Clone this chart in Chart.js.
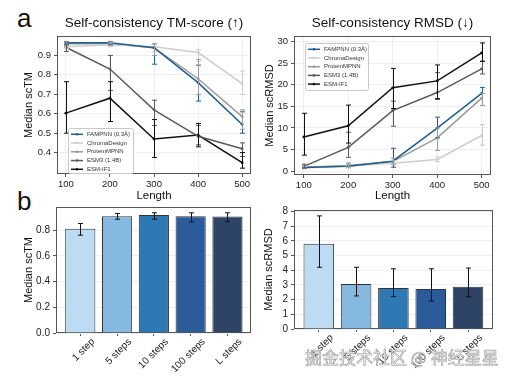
<!DOCTYPE html>
<html>
<head>
<meta charset="utf-8">
<script src="https://cdn.jsdelivr.net/npm/chart.js@4.4.1/dist/chart.umd.min.js"></script>
<style>
  body { margin: 0; background: #fff; }
  #page { position: relative; width: 518px; height: 381px; overflow: hidden; font-family: "Liberation Sans", Arial, sans-serif; }
  canvas { position: absolute; }
  .panel { position: absolute; font-size: 26px; line-height: 1; color: #111; }
  #mark { position: absolute; left: 305px; top: 348px; font: 17px/1 "Noto Sans CJK SC"; color: #f5f5f5;
          -webkit-text-stroke: 0.6px #999; white-space: nowrap; }
</style>
</head>
<body>
<div id="page">
  <div class="panel" style="left:17px;top:5px">a</div>
  <div class="panel" style="left:17px;top:188px">b</div>
  <canvas id="tm-line" width="258" height="206" style="left:0;top:0"></canvas>
  <canvas id="rmsd-line" width="260" height="206" style="left:258px;top:0"></canvas>
  <canvas id="tm-bar" width="258" height="186" style="left:0;top:195px"></canvas>
  <canvas id="rmsd-bar" width="260" height="186" style="left:258px;top:195px"></canvas>
  <div id="mark">掘金技术社区 @ 神经星星</div>
</div>
<script>
// ---- data ----
const lengths = [100, 200, 300, 400, 500];
const modelNames = ['FAMPNN (0.3Å)', 'ChromaDesign', 'ProteinMPNN', 'ESM3 (1.4B)', 'ESM-IF1'];
const modelColors = ['#1d5f8c', '#cdcdcd', '#9a9a9a', '#5a5a5a', '#111111'];

// median scTM per length
const tmFampnn      = [0.965, 0.965, 0.94, 0.76, 0.545];
const tmChroma      = [0.945, 0.955, 0.945, 0.915, 0.755];
const tmProteinMpnn = [0.96, 0.96, 0.94, 0.78, 0.585];
const tmEsm3        = [0.942, 0.83, 0.62, 0.484, 0.42];
const tmEsmIf1      = [0.603, 0.68, 0.47, 0.49, 0.348];
// error bar ends
const tmFampnnLow       = [0.955, 0.955, 0.855, 0.665, 0.50];
const tmFampnnHigh      = [0.972, 0.972, 0.96, 0.85, 0.61];
const tmChromaLow       = [0.935, 0.945, 0.92, 0.87, 0.70];
const tmChromaHigh      = [0.955, 0.965, 0.96, 0.93, 0.82];
const tmProteinMpnnLow  = [0.95, 0.95, 0.90, 0.70, 0.52];
const tmProteinMpnnHigh = [0.97, 0.97, 0.96, 0.88, 0.62];
const tmEsm3Low         = [0.92, 0.72, 0.54, 0.44, 0.38];
const tmEsm3High        = [0.955, 0.90, 0.67, 0.54, 0.45];
const tmEsmIf1Low       = [0.50, 0.56, 0.375, 0.43, 0.32];
const tmEsmIf1High      = [0.765, 0.765, 0.57, 0.55, 0.40];

// median scRMSD per length
const rmsdFampnn      = [0.85, 1.1, 2.3, 9.95, 18.0];
const rmsdChroma      = [0.7, 1.2, 1.85, 2.7, 8.25];
const rmsdProteinMpnn = [0.9, 1.3, 2.2, 7.7, 16.9];
const rmsdEsm3        = [1.1, 5.5, 14.0, 18.2, 23.7];
const rmsdEsmIf1      = [7.9, 10.5, 19.3, 20.9, 27.4];
const rmsdFampnnLow       = [0.6, 0.8, 0.9, 7.7, 15.2];
const rmsdFampnnHigh      = [1.2, 1.6, 5.3, 12.5, 19.4];
const rmsdChromaLow       = [0.5, 0.9, 1.5, 2.2, 6.0];
const rmsdChromaHigh      = [1.0, 1.6, 2.4, 3.3, 10.8];
const rmsdProteinMpnnLow  = [0.6, 1.0, 1.6, 4.8, 15.2];
const rmsdProteinMpnnHigh = [1.3, 1.9, 3.0, 10.0, 18.0];
const rmsdEsm3Low         = [0.7, 3.2, 10.4, 16.6, 22.5];
const rmsdEsm3High        = [1.6, 9.0, 16.2, 22.8, 25.5];
const rmsdEsmIf1Low       = [3.7, 6.5, 14.5, 16.8, 25.4];
const rmsdEsmIf1High      = [13.4, 15.3, 23.8, 24.6, 29.7];

// panel b: decoding steps
const stepLabels = ['1 step', '5 steps', '10 steps', '100 steps', 'L steps'];
const stepColors = ['#bddcf3', '#86b9df', '#2e79b3', '#2b5b98', '#2d4466'];
const stepTm       = [0.81, 0.909, 0.917, 0.909, 0.906];
const stepTmLow    = [0.761, 0.885, 0.885, 0.865, 0.865];
const stepTmHigh   = [0.852, 0.93, 0.935, 0.935, 0.935];
const stepRmsd     = [5.8, 3.06, 2.79, 2.72, 2.88];
const stepRmsdLow  = [4.2, 2.25, 2.2, 1.9, 2.2];
const stepRmsdHigh = [7.7, 4.2, 4.1, 4.1, 4.15];

const FONT = '"Liberation Sans", Arial, sans-serif';
Chart.defaults.font.family = FONT;
Chart.defaults.color = '#222';

// frame round the plot + title centred over the plot
const frameTitle = {
  id: 'frameTitle',
  beforeDatasetsDraw(chart) {
    const a = chart.chartArea, ctx = chart.ctx;
    ctx.save();
    ctx.strokeStyle = '#555';
    ctx.lineWidth = 1;
    ctx.strokeRect(a.left + 0.5, a.top + 0.5, a.right - a.left - 1, a.bottom - a.top - 1);
    ctx.restore();
  },
  afterDraw(chart, args, opts) {
    if (!opts.text) return;
    const a = chart.chartArea, ctx = chart.ctx;
    ctx.save();
    ctx.font = opts.size + 'px ' + FONT;
    ctx.fillStyle = '#111';
    ctx.textAlign = 'center';
    ctx.textBaseline = 'middle';
    ctx.fillText(opts.text, (a.left + a.right) / 2 + (opts.dx || 0), opts.y);
    ctx.restore();
  }
};

const errorBars = {
  id: 'errorBars',
  afterDatasetsDraw(chart) {
    const ctx = chart.ctx, yScale = chart.scales.y;
    chart.data.datasets.forEach((ds, i) => {
      if (!ds.errLow) return;
      const meta = chart.getDatasetMeta(i);
      ctx.save();
      ctx.strokeStyle = ds.errColor || ds.borderColor;
      ctx.lineWidth = 1;
      meta.data.forEach((el, j) => {
        const x = Math.round(el.x) + 0.5;
        const y0 = yScale.getPixelForValue(ds.errLow[j]);
        const y1 = yScale.getPixelForValue(ds.errHigh[j]);
        ctx.beginPath();
        ctx.moveTo(x, y0); ctx.lineTo(x, y1);
        ctx.moveTo(x - 2.5, y0); ctx.lineTo(x + 2.5, y0);
        ctx.moveTo(x - 2.5, y1); ctx.lineTo(x + 2.5, y1);
        ctx.stroke();
      });
      ctx.restore();
    });
  }
};

// small boxed legend inside the plot
const boxLegend = {
  id: 'boxLegend',
  afterDraw(chart, args, o) {
    if (!o.width) return;
    const a = chart.chartArea, ctx = chart.ctx;
    const bx = a.left + o.left, by = a.top + o.top;
    ctx.save();
    ctx.fillStyle = '#fff';
    ctx.strokeStyle = '#c8c8c8';
    ctx.lineWidth = 1;
    ctx.beginPath();
    ctx.roundRect(bx + 0.5, by + 0.5, o.width, o.height, 2);
    ctx.fill();
    ctx.stroke();
    ctx.font = '6px ' + FONT;
    ctx.textBaseline = 'middle';
    chart.data.datasets.forEach((ds, i) => {
      const ry = by + o.first + i * o.row;
      ctx.strokeStyle = ds.borderColor;
      ctx.fillStyle = ds.borderColor;
      ctx.lineWidth = 1.5;
      ctx.beginPath();
      ctx.moveTo(bx + 3, ry); ctx.lineTo(bx + 15, ry);
      ctx.stroke();
      ctx.beginPath();
      ctx.arc(bx + 9, ry, 1.3, 0, Math.PI * 2);
      ctx.fill();
      ctx.fillStyle = '#333';
      ctx.fillText(ds.label, bx + 19, ry);
    });
    ctx.restore();
  }
};

function lineSet(i, values, low, high) {
  return {
    label: modelNames[i],
    data: lengths.map((x, j) => ({ x: x, y: values[j] })),
    errLow: low,
    errHigh: high,
    borderColor: modelColors[i],
    backgroundColor: modelColors[i],
    borderWidth: 1.5,
    pointRadius: 1.4,
    pointBorderWidth: 0,
    tension: 0
  };
}

function axis(extra) {
  return Object.assign({
    type: 'linear',
    offset: false,
    border: { display: false },
    grid: { color: '#efefef', tickLength: 3, tickColor: '#555' },
    ticks: { font: { size: 9.5 }, color: '#222', padding: 2 }
  }, extra);
}

function lineOptions(cfg) {
  return {
    responsive: false,
    animation: false,
    layout: { padding: cfg.padding },
    plugins: {
      legend: { display: false },
      tooltip: { enabled: false },
      frameTitle: { text: cfg.title, y: 23, size: 13.5 },
      boxLegend: cfg.legend
    },
    scales: {
      x: axis({
        min: cfg.xMin, max: cfg.xMax,
        afterBuildTicks: s => { s.ticks = lengths.map(v => ({ value: v })); },
        afterFit: s => { s.height = cfg.xHeight; },
        title: { display: true, text: 'Length', font: { size: 11.5 }, color: '#111', padding: { top: 0, bottom: 3 } }
      }),
      y: axis({
        min: cfg.yMin, max: cfg.yMax,
        afterBuildTicks: s => { s.ticks = cfg.yTicks.map(v => ({ value: v })); },
        afterFit: s => { s.width = cfg.yWidth; },
        ticks: { font: { size: 9.5 }, color: '#222', padding: 3, autoSkip: false, callback: cfg.yFormat },
        title: { display: true, text: cfg.yTitle, font: { size: 11 }, color: '#111', padding: { top: cfg.yTitlePad } }
      })
    }
  };
}

new Chart(document.getElementById('tm-line'), {
  type: 'line',
  data: {
    datasets: [
      lineSet(0, tmFampnn, tmFampnnLow, tmFampnnHigh),
      lineSet(1, tmChroma, tmChromaLow, tmChromaHigh),
      lineSet(2, tmProteinMpnn, tmProteinMpnnLow, tmProteinMpnnHigh),
      lineSet(3, tmEsm3, tmEsm3Low, tmEsm3High),
      lineSet(4, tmEsmIf1, tmEsmIf1Low, tmEsmIf1High)
    ]
  },
  options: lineOptions({
    title: 'Self-consistency TM-score (↑)',
    padding: { left: 0, right: 7, top: 36, bottom: 0 },
    xMin: 80, xMax: 520, xHeight: 32,
    yMin: 0.29, yMax: 1.0, yTicks: [0.4, 0.5, 0.6, 0.7, 0.8, 0.9], yWidth: 57,
    yFormat: v => v.toFixed(1), yTitle: 'Median scTM', yTitlePad: 22,
    legend: { left: 11, top: 92, width: 65, height: 45, first: 6.3, row: 8.75 }
  }),
  plugins: [frameTitle, errorBars, boxLegend]
});

new Chart(document.getElementById('rmsd-line'), {
  type: 'line',
  data: {
    datasets: [
      lineSet(0, rmsdFampnn, rmsdFampnnLow, rmsdFampnnHigh),
      lineSet(1, rmsdChroma, rmsdChromaLow, rmsdChromaHigh),
      lineSet(2, rmsdProteinMpnn, rmsdProteinMpnnLow, rmsdProteinMpnnHigh),
      lineSet(3, rmsdEsm3, rmsdEsm3Low, rmsdEsm3High),
      lineSet(4, rmsdEsmIf1, rmsdEsmIf1Low, rmsdEsmIf1High)
    ]
  },
  options: lineOptions({
    title: 'Self-consistency RMSD (↓)',
    padding: { left: 0, right: 27, top: 36, bottom: 0 },
    xMin: 78, xMax: 521, xHeight: 31,
    yMin: -0.9, yMax: 31.3, yTicks: [0, 5, 10, 15, 20, 25, 30], yWidth: 36,
    yFormat: v => v, yTitle: 'Median scRMSD', yTitlePad: 5,
    legend: { left: 11, top: 7, width: 63, height: 47, first: 6.3, row: 8.7 }
  }),
  plugins: [frameTitle, errorBars, boxLegend]
});

function barOptions(cfg) {
  return {
    responsive: false,
    animation: false,
    layout: { padding: cfg.padding },
    plugins: {
      legend: { display: false },
      tooltip: { enabled: false }
    },
    scales: {
      x: axis({
        min: cfg.xMin, max: cfg.xMax,
        afterBuildTicks: s => { s.ticks = stepLabels.map((_, i) => ({ value: i })); },
        afterFit: s => { s.height = cfg.xHeight; },
        grid: { display: true, offset: false, drawOnChartArea: false, tickLength: 3, tickColor: '#555' },
        ticks: { font: { size: 10 }, color: '#222', padding: 0, labelOffset: 13, minRotation: 45, maxRotation: 45,
                 autoSkip: false, callback: v => stepLabels[v] }
      }),
      y: axis({
        min: 0, max: cfg.yMax,
        afterBuildTicks: s => { s.ticks = cfg.yTicks.map(v => ({ value: v })); },
        afterFit: s => { s.width = cfg.yWidth; },
        ticks: { font: { size: 10 }, color: '#222', padding: 3, autoSkip: false, callback: cfg.yFormat },
        title: { display: true, text: cfg.yTitle, font: { size: 11 }, color: '#111', padding: { top: cfg.yTitlePad } }
      })
    }
  };
}

function barSet(values, low, high) {
  return {
    data: stepLabels.map((_, i) => ({ x: i, y: values[i] })),
    errLow: low,
    errHigh: high,
    errColor: '#111',
    backgroundColor: stepColors,
    borderColor: '#333',
    borderWidth: 1,
    barPercentage: 0.82,
    categoryPercentage: 1
  };
}

new Chart(document.getElementById('tm-bar'), {
  type: 'bar',
  data: { datasets: [barSet(stepTm, stepTmLow, stepTmHigh)] },
  options: barOptions({
    padding: { left: 0, right: 7, top: 12, bottom: 0 },
    xMin: -0.66, xMax: 4.64, xHeight: 48,
    yMax: 0.98, yTicks: [0, 0.2, 0.4, 0.6, 0.8], yWidth: 56,
    yFormat: v => v.toFixed(1), yTitle: 'Median scTM', yTitlePad: 22
  }),
  plugins: [frameTitle, errorBars]
});

new Chart(document.getElementById('rmsd-bar'), {
  type: 'bar',
  data: { datasets: [barSet(stepRmsd, stepRmsdLow, stepRmsdHigh)] },
  options: barOptions({
    padding: { left: 0, right: 25, top: 15, bottom: 0 },
    xMin: -0.665, xMax: 4.67, xHeight: 52,
    yMax: 8.1, yTicks: [0, 1, 2, 3, 4, 5, 6, 7, 8], yWidth: 36,
    yFormat: v => v, yTitle: 'Median scRMSD', yTitlePad: 4
  }),
  plugins: [frameTitle, errorBars]
});
</script>
</body>
</html>
